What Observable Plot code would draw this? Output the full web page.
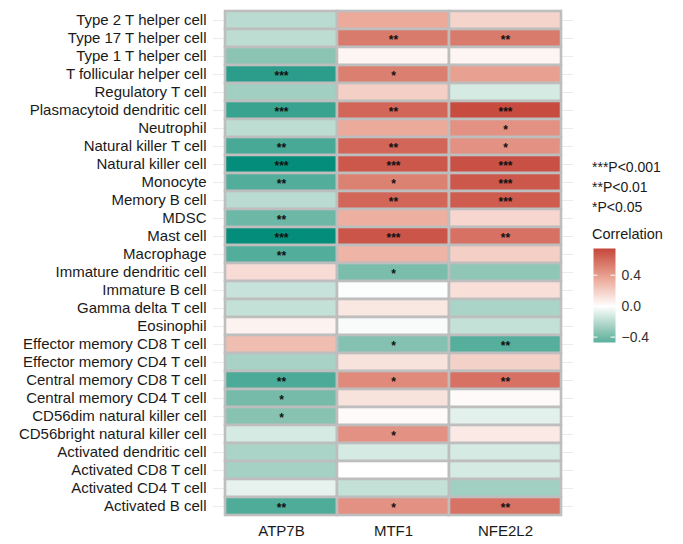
<!DOCTYPE html>
<html>
<head>
<meta charset="utf-8">
<script src="https://cdn.jsdelivr.net/npm/d3@7"></script>
<script src="https://cdn.jsdelivr.net/npm/@observablehq/plot@0.6"></script>
<style>
  html, body { margin: 0; padding: 0; background: #fff; }
  #wrap { position: relative; width: 683px; height: 544px; font-family: "Liberation Sans", Arial, Helvetica, sans-serif; }
  #main { position: absolute; left: 0; top: 0; }
  #legend { position: absolute; left: 592px; top: 157px; color: #1a1a1a; font-size: 14px; }
  #legend .sig { line-height: 20px; height: 20px; }
  #legend .ttl { margin-top: 8px; font-size: 14.5px; line-height: 18px; }
  #bar { position: absolute; left: 593px; top: 243px; }
</style>
</head>
<body>
<div id="wrap">
  <div id="main"></div>
  <div id="legend">
    <div class="sig">***P&lt;0.001</div>
    <div class="sig">**P&lt;0.01</div>
    <div class="sig">*P&lt;0.05</div>
    <div class="ttl">Correlation</div>
  </div>
  <div id="bar"></div>
</div>
<script>
const genes = ["ATP7B", "MTF1", "NFE2L2"];
const cells = [
  "Type 2 T helper cell", "Type 17 T helper cell", "Type 1 T helper cell",
  "T follicular helper cell", "Regulatory T cell", "Plasmacytoid dendritic cell",
  "Neutrophil", "Natural killer T cell", "Natural killer cell", "Monocyte",
  "Memory B cell", "MDSC", "Mast cell", "Macrophage", "Immature dendritic cell",
  "Immature B cell", "Gamma delta T cell", "Eosinophil",
  "Effector memory CD8 T cell", "Effector memory CD4 T cell",
  "Central memory CD8 T cell", "Central memory CD4 T cell",
  "CD56dim natural killer cell", "CD56bright natural killer cell",
  "Activated dendritic cell", "Activated CD8 T cell", "Activated CD4 T cell",
  "Activated B cell"
];
// correlation values per gene, in the order of `cells`
const corrATP7B = [-0.20, -0.19, -0.33, -0.60, -0.27, -0.56, -0.19, -0.52, -0.71, -0.49,
  -0.20, -0.42, -0.71, -0.49, 0.15, -0.16, -0.17, 0.05, 0.27, -0.25,
  -0.51, -0.39, -0.34, -0.12, -0.24, -0.26, -0.07, -0.50];
const corrMTF1 = [0.35, 0.54, 0.04, 0.52, 0.20, 0.62, 0.35, 0.62, 0.68, 0.51,
  0.62, 0.33, 0.69, 0.31, -0.38, -0.01, 0.10, -0.02, -0.35, 0.12,
  0.48, 0.12, 0.02, 0.45, -0.12, 0.00, -0.17, 0.45];
const corrNFE2L2 = [0.18, 0.54, 0.04, 0.39, -0.12, 0.73, 0.45, 0.45, 0.71, 0.68,
  0.66, 0.17, 0.58, 0.20, -0.32, 0.13, -0.24, -0.17, -0.48, 0.19,
  0.58, 0.02, -0.08, 0.09, -0.12, -0.12, -0.27, 0.57];
// significance marks per gene
const sigATP7B = ["", "", "", "***", "", "***", "", "**", "***", "**",
  "", "**", "***", "**", "", "", "", "", "", "",
  "**", "*", "*", "", "", "", "", "**"];
const sigMTF1 = ["", "**", "", "*", "", "**", "", "**", "***", "*",
  "**", "", "***", "", "*", "", "", "", "*", "",
  "*", "", "", "*", "", "", "", "*"];
const sigNFE2L2 = ["", "**", "", "", "", "***", "*", "*", "***", "***",
  "***", "", "**", "", "", "", "", "", "**", "",
  "**", "", "", "", "", "", "", "**"];
const legendTicks = [-0.4, 0.0, 0.4];
const legendRange = [-0.47, 0.745];

const corr = {ATP7B: corrATP7B, MTF1: corrMTF1, NFE2L2: corrNFE2L2};
const sig = {ATP7B: sigATP7B, MTF1: sigMTF1, NFE2L2: sigNFE2L2};
const table = [];
for (const g of genes) cells.forEach((c, i) => table.push({cell: c, gene: g, r: corr[g][i], s: sig[g][i]}));

const colorScale = {
  type: "linear",
  domain: [-0.72, -0.33, 0, 0.36, 0.75],
  range: ["#008c78", "#8cc4b3", "#ffffff", "#eba897", "#c5463a"],
  interpolate: "rgb"
};

const font = "'Liberation Sans', Arial, Helvetica, sans-serif";

const main = Plot.plot({
  width: 683,
  height: 544,
  marginLeft: 213,
  marginRight: 110,
  marginTop: 11,
  marginBottom: 29,
  style: {fontFamily: font, background: "#fff"},
  x: {type: "band", domain: genes, padding: 0, insetLeft: 11.5, insetRight: 12},
  y: {type: "band", domain: cells, padding: 0},
  color: colorScale,
  marks: [
    Plot.gridY({stroke: "#e6e6e6", strokeOpacity: 1, strokeWidth: 0.8}),
    Plot.cell(table, {x: "gene", y: "cell", fill: "r", stroke: "#bebebe", strokeWidth: 2.6, inset: 0}),
    Plot.text(table.filter(d => d.s), {x: "gene", y: "cell", text: "s", fontSize: 12, fontWeight: "bold", fill: "#111", dy: 2}),
    Plot.axisY({tickSize: 0, tickPadding: 7, fontSize: 15, fill: "#1a1a1a", label: null}),
    Plot.axisX({tickSize: 0, tickPadding: 10, fontSize: 15, fill: "#1a1a1a", label: null})
  ]
});
document.getElementById("main").appendChild(main);

const bar = Plot.plot({
  width: 80,
  height: 99,
  marginLeft: 0,
  marginRight: 58,
  marginTop: 5,
  marginBottom: 0,
  style: {fontFamily: font, background: "transparent", overflow: "visible"},
  x: {domain: [0, 1], axis: null},
  y: {domain: legendRange},
  color: colorScale,
  marks: [
    Plot.raster({x1: 0, x2: 1, y1: legendRange[0], y2: legendRange[1], fill: (x, y) => y, pixelSize: 1, imageRendering: "auto"}),
    Plot.ruleY(legendTicks, {x1: 0, x2: 0.2, stroke: "#fff", strokeWidth: 1}),
    Plot.ruleY(legendTicks, {x1: 0.8, x2: 1, stroke: "#fff", strokeWidth: 1}),
    Plot.axisY(legendTicks, {anchor: "right", tickSize: 0, tickPadding: 6, fontSize: 14, fill: "#333", label: null, tickFormat: d3.format(".1f")})
  ]
});
document.getElementById("bar").appendChild(bar);
</script>
</body>
</html>
